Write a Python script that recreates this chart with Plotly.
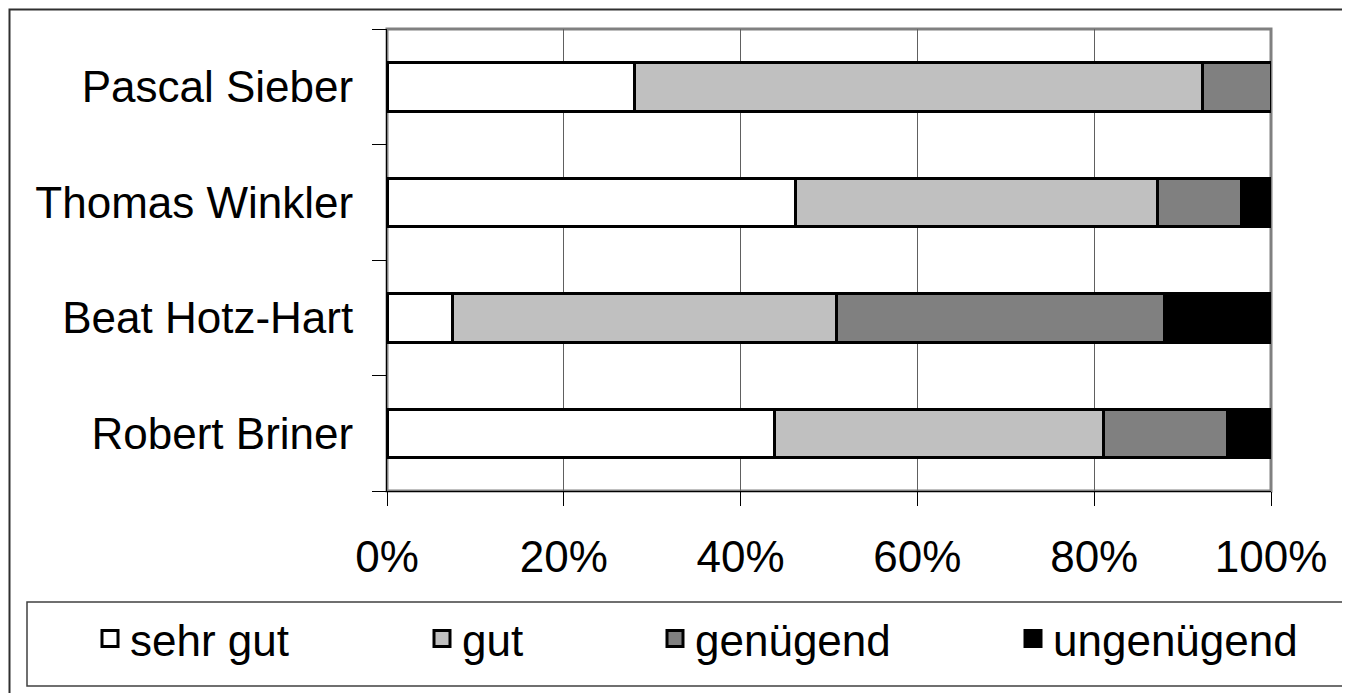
import plotly.graph_objects as go

# ---- data ----
categories = ["Robert Briner", "Beat Hotz-Hart", "Thomas Winkler", "Pascal Sieber"]
series_names = ["sehr gut", "gut", "genügend", "ungenügend"]
sehr_gut = [43.8, 7.4, 46.2, 28.0]
gut = [37.3, 43.4, 41.0, 64.3]
genuegend = [14.0, 37.2, 9.5, 7.7]
ungenuegend = [4.9, 12.0, 3.3, 0.0]
x_tickvals = [0, 20, 40, 60, 80, 100]
x_ticktext = ["0%", "20%", "40%", "60%", "80%", "100%"]

series_values = [sehr_gut, gut, genuegend, ungenuegend]
colors = ["#FFFFFF", "#C0C0C0", "#808080", "#000000"]

OFF = 8  # page body margin
W, H = 1350 - OFF, 693 - OFF
L, R, T, B = 387 - OFF, 1271 - OFF, 29 - OFF, 491 - OFF
pw, ph = R - L, B - T


def px(x):
    return (x - OFF - L) / pw


def py(y):
    return (B - (y - OFF)) / ph


FONT = "Liberation Sans, Arial, sans-serif"
FS = 44

fig = go.Figure()
legend_ids = ["legend", "legend2", "legend3", "legend4"]
for name, vals, col in zip(series_names, series_values, colors):
    fig.add_trace(go.Bar(
        y=categories, x=vals, name=name, orientation="h",
        marker=dict(color=col, line=dict(color="#000000", width=3)),
        showlegend=False,
    ))
for name, col, lid in zip(series_names, colors, legend_ids):
    fig.add_trace(go.Scatter(
        x=[None], y=[None], mode="markers", name=name, legend=lid,
        marker=dict(symbol="square", size=16, color=col,
                    line=dict(color="#000000", width=3)),
        showlegend=True, hoverinfo="skip",
    ))

legend_centers = [110, 442, 675, 1033]
leg_y = py(639)
legend_layouts = {}
for lid, cx in zip(legend_ids, legend_centers):
    legend_layouts[lid] = dict(
        x=px(cx - 20), xanchor="left", y=leg_y, yanchor="middle",
        orientation="h", bgcolor="rgba(0,0,0,0)", borderwidth=0,
        font=dict(family=FONT, size=FS, color="#000000"),
    )

fig.update_layout(
    width=W, height=H,
    margin=dict(l=L, r=W - R, t=T, b=H - B, pad=0),
    paper_bgcolor="#FFFFFF", plot_bgcolor="#FFFFFF",
    barmode="stack", bargap=0.58,
    font=dict(family=FONT, size=FS, color="#000000"),
    showlegend=True,
    **legend_layouts,
)

fig.update_xaxes(
    range=[0, 100], tickvals=x_tickvals, ticktext=x_ticktext,
    showgrid=True, gridcolor="#606060", gridwidth=1,
    showline=True, linecolor="#000000", linewidth=1,
    ticks="outside", ticklen=14, tickwidth=1, tickcolor="#000000",
    tickfont=dict(family=FONT, size=FS, color="#000000"),
    ticklabelstandoff=13,
    zeroline=False, fixedrange=True,
)
fig.update_yaxes(
    type="category", categoryorder="array", categoryarray=categories,
    tickson="boundaries", ticks="outside", ticklen=14, tickwidth=1,
    tickcolor="#000000", showgrid=False,
    showline=True, linecolor="#000000", linewidth=1,
    tickfont=dict(family=FONT, size=FS, color="#000000"),
    ticklabelstandoff=24, fixedrange=True,
)

shapes = [
    # plot area border (gray)
    dict(type="rect", xref="paper", yref="paper", x0=0, x1=1, y0=0, y1=1,
         line=dict(color="#808080", width=3), fillcolor="rgba(0,0,0,0)", layer="below"),
    # outer chart border
    dict(type="rect", xref="paper", yref="paper",
         x0=px(9.5), x1=px(1400), y0=py(740), y1=py(9.5),
         line=dict(color="#303030", width=2), fillcolor="rgba(0,0,0,0)", layer="below"),
    # legend box
    dict(type="rect", xref="paper", yref="paper",
         x0=px(27), x1=px(1400), y0=py(686), y1=py(602),
         line=dict(color="#404040", width=1.5), fillcolor="rgba(0,0,0,0)", layer="below"),
]
fig.update_layout(shapes=shapes)

fig.write_html("out.html")
